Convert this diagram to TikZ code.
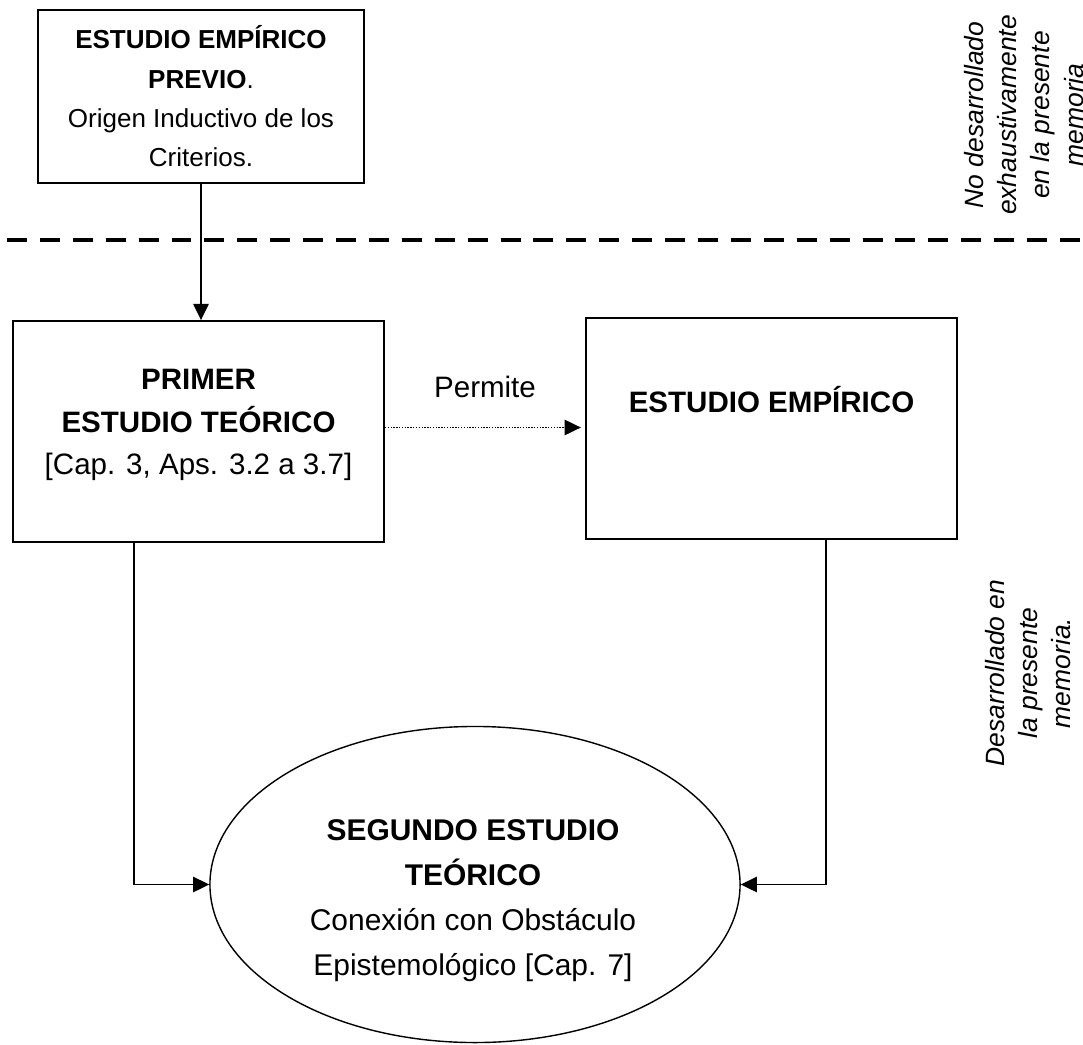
\documentclass[tikz,border=0pt]{standalone}
\usepackage{fontspec}
\setmainfont{Liberation Sans}
\usepackage{tikz}
\usetikzlibrary{arrows.meta,positioning,shapes.geometric,calc}
\definecolor{cInk}{HTML}{000000}
\newcommand\fsTop{\fontsize{18.5}{28}\selectfont}
\newcommand\fsMain{\fontsize{21}{30}\selectfont}
\newcommand\fsOval{\fontsize{21.3}{32}\selectfont}
\newcommand\fsNote{\fontsize{18.8}{23.5}\selectfont\itshape}
\tikzset{
  box/.style     = {draw=cInk, line width=1.3pt, align=center, inner sep=0pt},
  oval/.style    = {ellipse, draw=cInk, line width=1pt, inner sep=0pt},
  boxtext/.style = {align=center, font=\fsMain, text=cInk},
  note/.style    = {font=\fsNote, rotate=90, align=center, text=cInk},
  flow/.style    = {-{Triangle[length=11.5pt, width=11pt]}, line width=1pt, draw=cInk},
  dotflow/.style = {flow, densely dotted, line width=0.8pt},
  divider/.style = {draw=cInk, line width=3pt, dash pattern=on 14.2pt off 9.2pt},
}
\begin{document}
\begin{tikzpicture}[x=0.025cm, y=-0.025cm]
  \useasboundingbox (0,0) rectangle (1083,1044);
  % upper band: the earlier study
  \node[box, font=\fsTop, minimum width=8.15cm, minimum height=4.325cm] (prev) at (201,96.5)
    {\textbf{ESTUDIO EMPÍRICO}\\ \textbf{PREVIO}.\\ Origen Inductivo de los\\ Criterios.};
  \node[note] (noteTop) at (1024,115)
    {No desarrollado\\ exhaustivamente\\ en la presente\\ memoria};
  \draw[divider] (7,240) -- (1083,240);
  % lower band
  \node[box, minimum width=9.275cm, minimum height=5.525cm] (primer) at (198.5,431.5) {};
  \node[boxtext] (primerTxt) at (198.5,425)
    {\textbf{PRIMER}\\ \textbf{ESTUDIO TEÓRICO}\\ {[Cap. 3, Aps. 3.2 a 3.7]}};
  \node[box, minimum width=9.275cm, minimum height=5.525cm] (emp) at (771.5,428.5) {};
  \node[boxtext, font=\fsMain\bfseries] (empTxt) at (771.5,400) {ESTUDIO EMPÍRICO};
  \node[boxtext] (permite) at (485,387) {Permite};
  \node[oval, minimum width=13.25cm, minimum height=7.9cm] (seg) at (475,884.5) {};
  \node[boxtext, font=\fsOval] (segTxt) at (473,901)
    {\textbf{SEGUNDO ESTUDIO}\\ \textbf{TEÓRICO}\\ Conexión con Obstáculo\\ Epistemológico [Cap. 7]};
  \node[note] (noteLow) at (1028,673)
    {Desarrollado en\\ la presente\\ memoria.};
  % connectors
  \coordinate (leftKnee) at (134,884.5);
  \coordinate (rightKnee) at (826,884.5);
  \draw[flow] (prev.south) -- (prev.south |- primer.north);
  \draw[dotflow, shorten >=3pt] ($(primer.east)+(0,-4)$) -- ($(primer.east -| emp.west)+(0,-4)$);
  \draw[flow] (primer.south -| leftKnee) -- (leftKnee) -- (seg.west);
  \draw[flow] (emp.south -| rightKnee) -- (rightKnee) -- (seg.east);
\end{tikzpicture}
\end{document}
